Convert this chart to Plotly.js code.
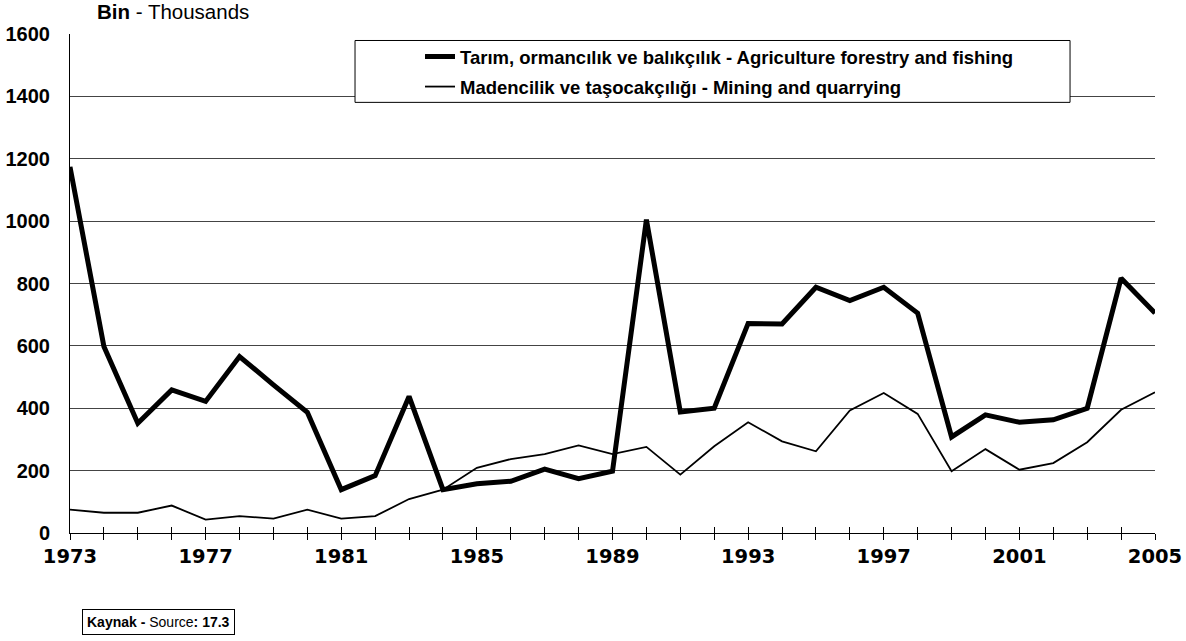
<!DOCTYPE html>
<html>
<head>
<meta charset="utf-8">
<script src="https://cdn.plot.ly/plotly-3.0.1.min.js"></script>
<style>
html,body{margin:0;padding:0;background:#fff;}
#chart{width:1186px;height:641px;}
</style>
</head>
<body>
<div id="chart"></div>
<script>
// Data
const years = [1973,1974,1975,1976,1977,1978,1979,1980,1981,1982,1983,1984,1985,1986,1987,1988,1989,1990,1991,1992,1993,1994,1995,1996,1997,1998,1999,2000,2001,2002,2003,2004,2005];
const agriculture = [1174,598,352,459,422,566,475,387,139,184,438,139,158,166,205,174,198,1005,388,400,672,670,788,745,788,705,308,379,355,363,400,817,705];
const mining = [75,65,65,88,43,54,46,75,46,54,109,139,209,237,253,281,253,276,187,278,355,294,262,393,449,382,198,269,203,224,291,395,451];
const xTickVals = [1973,1977,1981,1985,1989,1993,1997,2001,2005];
const xTickText = ["1973","1977","1981","1985","1989","1993","1997","2001","2005"];
const seriesNames = [
  "Tarım, ormancılık ve balıkçılık - Agriculture forestry and fishing",
  "Madencilik ve taşocakçılığı - Mining and quarrying"
];
const unitLabel = "<b>Bin</b> - Thousands";
const sourceLabel = "<b>Kaynak -</b> Source<b>: 17.3</b>";

const FONT = "Liberation Sans, Arial, sans-serif";
const WIDE = "DejaVu Sans, Verdana, sans-serif";

const traces = [
  {x: years, y: agriculture, type: "scatter", mode: "lines", name: seriesNames[0],
   legendgroup: "a", line: {color: "#000", width: 5}},
  {x: years, y: mining, type: "scatter", mode: "lines", name: seriesNames[1],
   legendgroup: "b", line: {color: "#000", width: 1.8}},
  {x: [years[0]], y: [0], xaxis: "x2", type: "scatter", mode: "markers",
   marker: {opacity: 0}, showlegend: false, hoverinfo: "skip"}
];

const layout = {
  width: 1186, height: 641,
  margin: {l: 70, r: 31, t: 33.5, b: 107.5},
  paper_bgcolor: "#fff", plot_bgcolor: "#fff",
  font: {family: FONT, color: "#000", size: 15},
  showlegend: true,
  xaxis: {
    range: [1973, 2005], tickmode: "array", tickvals: years,
    ticktext: years.map(y => xTickVals.includes(y) ? xTickText[xTickVals.indexOf(y)] : ""),
    ticks: "outside", ticklen: 6, tickcolor: "#000", tickwidth: 1,
    showgrid: false, zeroline: false, showline: true, linecolor: "#000", linewidth: 1,
    tickfont: {family: WIDE, size: 19.5, weight: "bold", color: "#000"}
  },
  xaxis2: {
    range: [1973, 2005], overlaying: "x", anchor: "y", side: "bottom",
    tickmode: "linear", tick0: 1973, dtick: 1,
    ticks: "inside", ticklen: 6, tickcolor: "#000", tickwidth: 1,
    showticklabels: false, showgrid: false, zeroline: false, showline: false
  },
  yaxis: {
    range: [0, 1600], dtick: 200, tick0: 0,
    ticks: "", showgrid: true, gridcolor: "#444", gridwidth: 1,
    zeroline: false, showline: true, linecolor: "#000", linewidth: 1,
    ticklabelstandoff: 15,
    tickfont: {family: FONT, size: 20, weight: "bold", color: "#000"}
  },
  legend: {
    x: 0.3226, y: 0.992, xanchor: "left", yanchor: "top",
    bgcolor: "rgba(0,0,0,0)", borderwidth: 0,
    traceorder: "grouped", tracegroupgap: 3,
    font: {family: FONT, size: 18.5, weight: "bold", color: "#000"}
  },
  shapes: [
    {type: "rect", xref: "paper", yref: "paper", x0: 0.2627, x1: 0.9217, y0: 0.863, y1: 0.987,
     line: {color: "#000", width: 1}, fillcolor: "#fff", layer: "above"}
  ],
  annotations: [
    {text: unitLabel, xref: "paper", yref: "paper", x: 0.023, y: 1.045,
     xanchor: "left", yanchor: "middle", showarrow: false,
     font: {family: FONT, size: 20.5, color: "#000"}},
    {text: sourceLabel, xref: "paper", yref: "paper", x: 0.011, y: -0.178,
     xanchor: "left", yanchor: "middle", showarrow: false,
     bordercolor: "#000", borderwidth: 1, borderpad: 4, bgcolor: "#fff",
     font: {family: FONT, size: 14, color: "#000"}}
  ]
};

Plotly.newPlot("chart", traces, layout, {displayModeBar: false, staticPlot: true});
</script>
</body>
</html>
